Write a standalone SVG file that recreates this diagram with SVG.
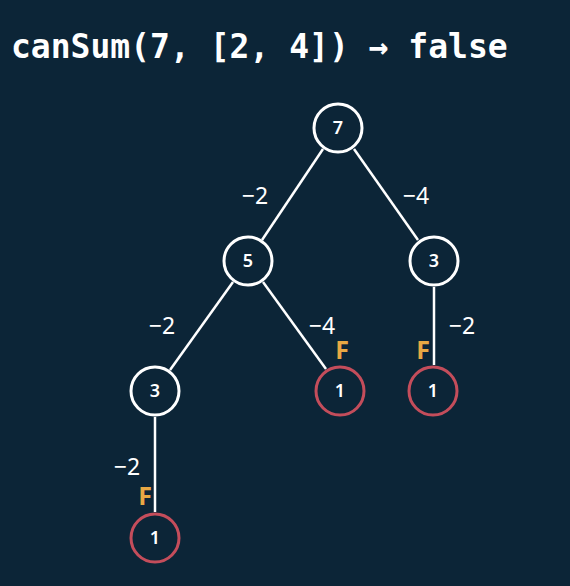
<svg xmlns="http://www.w3.org/2000/svg" width="570" height="586" viewBox="0 0 570 586">
<style>
.bg{fill:#0c2537}
.n circle{fill:#0c2537;stroke:#ffffff;stroke-width:3}
.n.f circle{stroke:#c44d5b}
.n text{fill:#ffffff;font-family:"Noto Sans","DejaVu Sans",sans-serif;font-size:18px;font-weight:600;text-anchor:middle}
.e line{stroke:#ffffff;stroke-width:2.5}
.lbl{fill:#ffffff;font-family:"Noto Sans","DejaVu Sans",sans-serif;font-size:23px;text-anchor:middle}
.F{fill:#e9a844;font-family:"Noto Sans","DejaVu Sans",sans-serif;font-size:25px;font-weight:bold;text-anchor:middle}
.title{fill:#ffffff;font-family:"DejaVu Sans Mono","Liberation Mono",monospace;font-size:33px;font-weight:bold}
</style>
<rect class="bg" x="0" y="0" width="570" height="586"/>
<text class="title" x="11" y="58">canSum(7, [2, 4]) → false</text>
<g id="connectors" class="e">
<line x1="323" y1="149" x2="262" y2="240"/>
<line x1="354" y1="149" x2="418" y2="240"/>
<line x1="233" y1="282" x2="170" y2="370"/>
<line x1="263" y1="282" x2="326" y2="369"/>
<line x1="434" y1="287" x2="434" y2="365"/>
<line x1="155" y1="417" x2="155" y2="512"/>
</g>
<g id="labels">
<text class="lbl" x="255" y="204">−2</text>
<text class="lbl" x="416" y="204">−4</text>
<text class="lbl" x="162" y="334">−2</text>
<text class="lbl" x="322" y="334">−4</text>
<text class="lbl" x="462" y="334">−2</text>
<text class="lbl" x="127" y="475">−2</text>
<text class="F" x="342" y="359">F</text>
<text class="F" x="423" y="359">F</text>
<text class="F" x="145" y="505">F</text>
</g>
<g id="n7" class="n"><circle cx="338" cy="128" r="24"/><text x="338" y="134">7</text></g>
<g id="n5" class="n"><circle cx="248" cy="261" r="24"/><text x="248" y="267">5</text></g>
<g id="n3r" class="n"><circle cx="434" cy="261" r="24"/><text x="434" y="267">3</text></g>
<g id="n3l" class="n"><circle cx="155" cy="391" r="24"/><text x="155" y="397">3</text></g>
<g id="n1a" class="n f"><circle cx="340" cy="391" r="24"/><text x="340" y="397">1</text></g>
<g id="n1b" class="n f"><circle cx="433" cy="391" r="24"/><text x="433" y="397">1</text></g>
<g id="n1c" class="n f"><circle cx="155" cy="538" r="24"/><text x="155" y="544">1</text></g>
</svg>
